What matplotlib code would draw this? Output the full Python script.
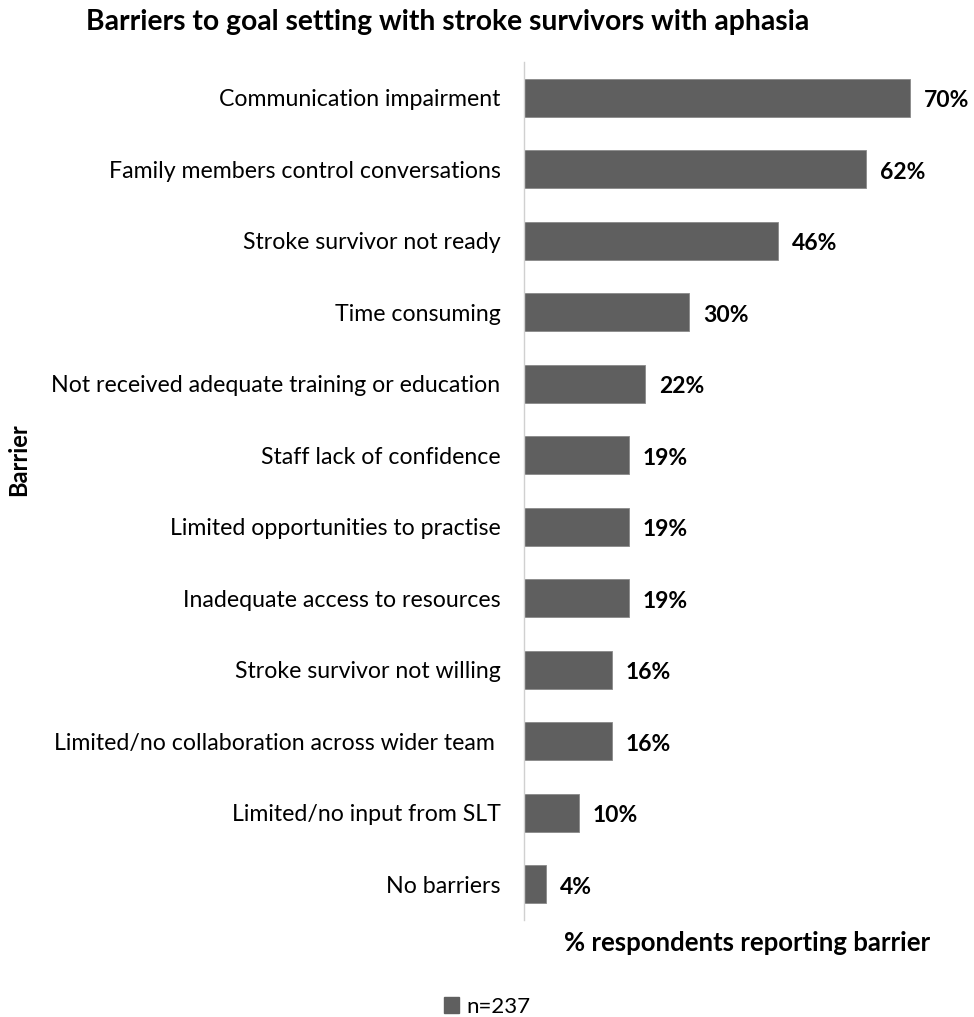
import matplotlib.pyplot as plt
import matplotlib.patches as mpatches

# survey results, top to bottom
barriers = [
    "Communication impairment",
    "Family members control conversations",
    "Stroke survivor not ready",
    "Time consuming",
    "Not received adequate training or education",
    "Staff lack of confidence",
    "Limited opportunities to practise",
    "Inadequate access to resources",
    "Stroke survivor not willing",
    "Limited/no collaboration across wider team ",
    "Limited/no input from SLT",
    "No barriers",
]
percent = [70, 62, 46, 30, 22, 19, 19, 19, 16, 16, 10, 4]
n_label = "n=237"

plt.rcParams['font.family'] = ['Lato', 'DejaVu Sans']
bar_color = '#5f5f5f'

fig = plt.figure(figsize=(9.74, 10.17), dpi=100)
ax = fig.add_axes([0.538, 0.0954, 0.453, 0.8436])

ypos = list(range(len(barriers)))
ax.barh(ypos, percent, height=0.53, color=bar_color, edgecolor='#8a8a8a', linewidth=0.6)

for y, v in zip(ypos, percent):
    ax.text(v + 2.5, y + 0.04, f"{v}%", va='center', ha='left', fontsize=16.5, fontweight='bold')

ax.set_yticks(ypos)
ax.set_yticklabels(barriers, fontsize=16.7)
ax.tick_params(axis='y', length=0, pad=17)
ax.set_xticks([])
ax.set_xlim(0, 80)
ax.set_ylim(len(barriers) - 0.5, -0.5)

for side in ['top', 'right', 'bottom']:
    ax.spines[side].set_visible(False)
ax.spines['left'].set_color('#d0d0d0')
ax.spines['left'].set_linewidth(1.0)

fig.text(0.460, 0.978, "Barriers to goal setting with stroke survivors with aphasia",
         ha='center', va='center', fontsize=20.3, fontweight='bold')
fig.text(0.767, 0.073, "% respondents reporting barrier", ha='center', va='center',
         fontsize=18.5, fontweight='bold')
fig.text(0.019, 0.548, "Barrier", ha='center', va='center', rotation=90,
         fontsize=17, fontweight='bold')

handle = mpatches.Patch(color=bar_color, label=n_label)
fig.legend(handles=[handle], loc='center', bbox_to_anchor=(0.5, 0.01), frameon=False,
           fontsize=16, handlelength=0.7, handleheight=0.7, handletextpad=0.3)

fig.savefig('out.png', dpi=100)
